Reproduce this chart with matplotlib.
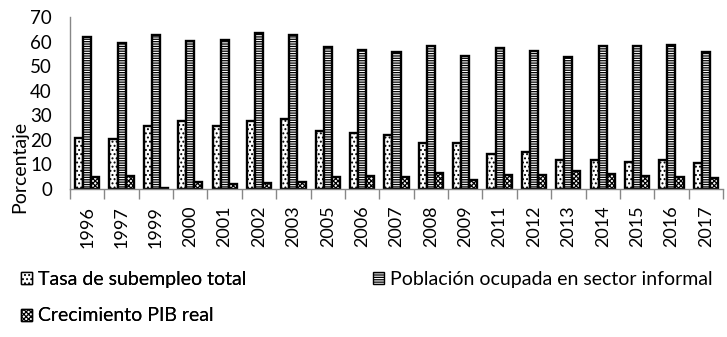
import matplotlib
matplotlib.use("Agg")
import matplotlib.pyplot as plt
import numpy as np
from matplotlib.patches import Patch

plt.rcParams['font.family'] = ['Lato', 'DejaVu Sans']
plt.rcParams['hatch.linewidth'] = 0.9

years = ["1996", "1997", "1999", "2000", "2001", "2002", "2003", "2005", "2006",
         "2007", "2008", "2009", "2011", "2012", "2013", "2014", "2015", "2016", "2017"]
subempleo = [20.6, 20.2, 25.5, 27.6, 25.5, 27.8, 28.3, 23.5, 22.6, 21.8, 18.6, 18.6,
             14.1, 14.9, 11.7, 11.7, 10.9, 11.7, 10.4]
informal = [62.0, 59.3, 62.6, 60.1, 60.5, 63.6, 62.6, 57.6, 56.4, 55.6, 58.4, 54.3,
            57.2, 56.0, 53.9, 58.4, 58.4, 58.8, 55.6]
pib = [4.8, 5.2, 0.3, 2.7, 2.0, 2.6, 3.0, 4.8, 5.2, 4.8, 6.4, 3.5,
       5.6, 5.6, 7.2, 6.0, 5.2, 4.8, 4.4]
series_names = ["Tasa de subempleo total", "Población ocupada en sector informal",
                "Crecimiento PIB real"]

W, H = 727, 337
fig = plt.figure(figsize=(W / 100, H / 100), dpi=100)
ax = fig.add_axes([70 / W, 1 - 189 / H, (723 - 70) / W, (189 - 17) / H])

x = np.arange(len(years))
bw = 0.235
hatches = ['....', '-------', 'xxxxxxx']
data = [subempleo, informal, pib]
for i, (vals, h) in enumerate(zip(data, hatches)):
    ax.bar(x + (i - 1) * bw, vals, bw, facecolor='white', edgecolor='black',
           hatch=h, linewidth=1.7, label=series_names[i])

ax.set_xlim(-0.5, len(years) - 0.5)
ax.set_ylim(0, 70)
ax.set_yticks(range(0, 71, 10))
ax.tick_params(axis='y', length=0, pad=13, labelsize=13.5)
ax.set_xticks(x)
ax.set_xticklabels(years, rotation=90, fontsize=13)
ax.set_xticks(np.arange(-0.5, len(years), 1.0), minor=True)
ax.tick_params(axis='x', which='major', length=0, pad=12)
ax.tick_params(axis='x', which='minor', length=7, color='#878787', width=1)
for s in ['top', 'right']:
    ax.spines[s].set_visible(False)
for s in ['left', 'bottom']:
    ax.spines[s].set_color('#878787')
    ax.spines[s].set_linewidth(1)

fig.text(20 / W, 1 - 167 / H, "Porcentaje", rotation=90, ha='center', va='center',
         fontsize=14)

def handle(i):
    return Patch(facecolor='white', edgecolor='black', hatch=hatches[i], linewidth=1.0)

common = dict(loc='upper left', frameon=False, fontsize=14, handlelength=0.57,
              handleheight=0.57, handletextpad=0.3, labelspacing=1.0,
              borderpad=0, borderaxespad=0)
leg1 = fig.legend([handle(0), handle(2)], [series_names[0], series_names[2]],
                  bbox_to_anchor=(21 / W, 1 - 271 / H), **common)
leg2 = fig.legend([handle(1)], [series_names[1]],
                  bbox_to_anchor=(373 / W, 1 - 271 / H), **common)
fig.add_artist(leg1)

fig.savefig("out.png", dpi=100)
